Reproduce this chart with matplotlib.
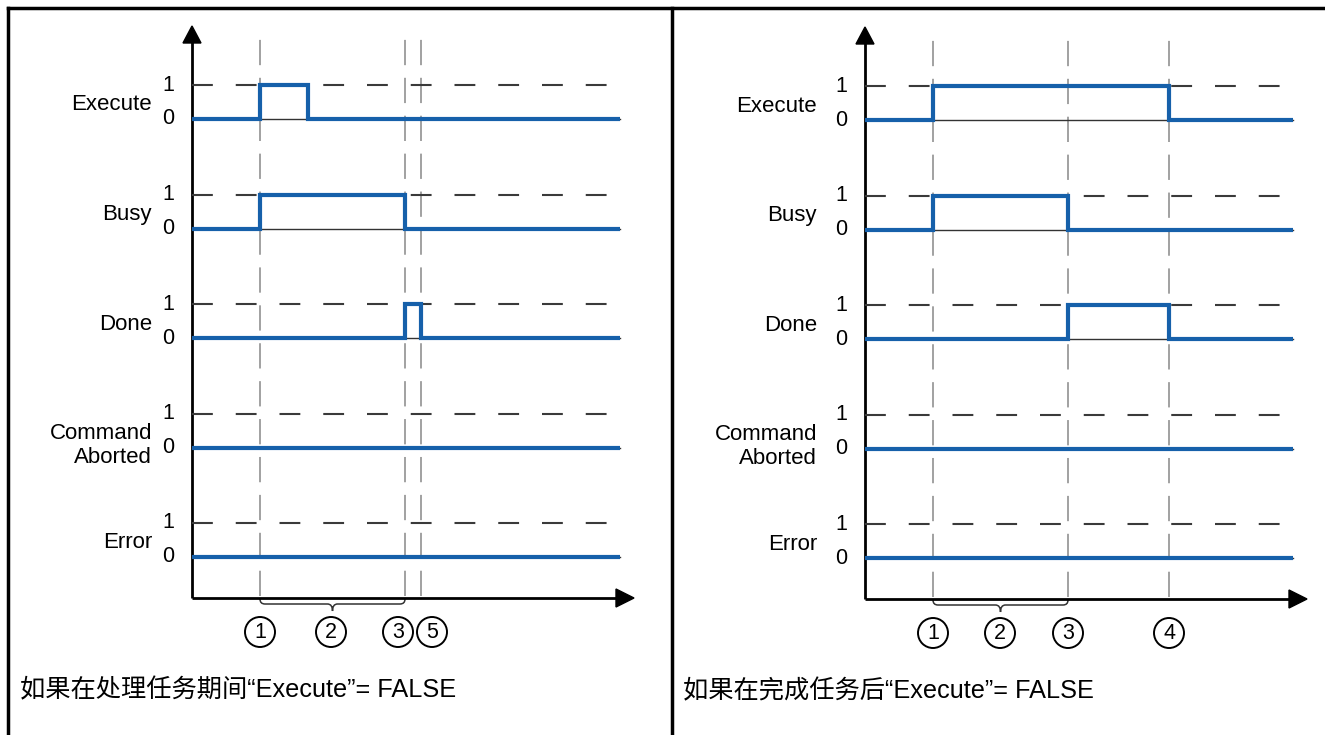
import numpy as np
import matplotlib.pyplot as plt
from matplotlib.patches import Circle, Polygon, PathPatch
from matplotlib.path import Path

plt.rcParams['font.family'] = ['Liberation Sans', 'Noto Sans CJK SC', 'DejaVu Sans']

W, H = 1325, 735

#Signals (top to bottom)
signals = ["Execute", "Busy", "Done", "Command\nAborted", "Error"]

#Left case: Execute goes FALSE while the job is still busy
left_times = [0, 68, 116, 213, 229, 428]
left_execute = [0, 1, 0, 0, 0, 0]
left_busy = [0, 1, 1, 0, 0, 0]
left_done = [0, 0, 0, 1, 0, 0]
left_aborted = [0, 0, 0, 0, 0, 0]
left_error = [0, 0, 0, 0, 0, 0]
left_events = [68, 213, 229]
left_marks = ["1", "2", "3", "5"]
left_mark_t = [68, 139, 206, 240]
left_brace = [68, 213]
left_caption = "如果在处理任务期间“Execute”= FALSE"

#Right case: Execute goes FALSE after the job is done
right_times = [0, 68, 203, 304, 428]
right_execute = [0, 1, 1, 0, 0]
right_busy = [0, 1, 0, 0, 0]
right_done = [0, 0, 1, 0, 0]
right_aborted = [0, 0, 0, 0, 0]
right_error = [0, 0, 0, 0, 0]
right_events = [68, 203, 304]
right_marks = ["1", "2", "3", "4"]
right_mark_t = [68, 135, 203, 304]
right_brace = [68, 203]
right_caption = "如果在完成任务后“Execute”= FALSE"

BLUE = '#1660aa'
ROW0 = 479.      # height of first row's 0 level above the time axis (px)
ROW_STEP = 109.5
AMP = 34.
T_END = 428


def brace(ax, x0, x1):
    xm = (x0 + x1) / 2.
    verts = [(x0, -1), (x0, -6), (x0 + 5, -6), (xm - 5, -6), (xm, -6), (xm, -13),
             (xm, -6), (xm + 5, -6), (x1 - 5, -6), (x1, -6), (x1, -1)]
    codes = [Path.MOVETO, Path.CURVE3, Path.CURVE3, Path.LINETO, Path.CURVE3, Path.CURVE3,
             Path.CURVE3, Path.CURVE3, Path.LINETO, Path.CURVE3, Path.CURVE3]
    ax.add_patch(PathPatch(Path(verts, codes), facecolor='none', edgecolor='#333333', lw=1.1))


def draw_panel(ax, times, rows, events, marks, mark_t, brace_t, caption, label_dx, cap_x):
    # axes with arrows
    ax.plot([0, 0], [0, 556], color='black', lw=2, solid_capstyle='butt')
    ax.plot([0, 425], [0, 0], color='black', lw=2, solid_capstyle='butt')
    ax.add_patch(Polygon([(-9, 555), (9, 555), (0, 572)], closed=True, color='black'))
    ax.add_patch(Polygon([(424, 9), (424, -9), (442, 0)], closed=True, color='black'))

    # vertical guides
    for t in events:
        ax.plot([t, t], [2, 559], color='#9a9a9a', lw=1.3, dashes=(14, 7))

    for k, (name, lv) in enumerate(zip(signals, rows)):
        base = ROW0 - k * ROW_STEP
        ax.plot([0, T_END], [base + AMP, base + AMP], color='#3a3a3a', lw=1.5, dashes=(10, 11))
        ax.plot([0, T_END], [base, base], color='#333333', lw=1.0)
        y = [base + AMP * v for v in lv]
        ax.step(times, y, where='post', color=BLUE, lw=3.0,
                solid_joinstyle='miter', solid_capstyle='butt')
        ax.text(-24, base + AMP, "1", ha='center', va='center', fontsize=15.5)
        ax.text(-24, base, "0", ha='center', va='center', fontsize=15.5)
        dy = 2 if "\n" in name else 14
        ax.text(label_dx, base + dy, name, ha='right', va='center', fontsize=16,
                linespacing=1.2, multialignment='right')

    brace(ax, brace_t[0], brace_t[1])
    for m, t in zip(marks, mark_t):
        ax.add_patch(Circle((t, -34), 15, facecolor='none', edgecolor='black', lw=1.4))
        ax.text(t, -34.5, m, ha='center', va='center', fontsize=15.5)

    ax.text(cap_x, -92, caption, ha='left', va='center', fontsize=18.2)


fig = plt.figure(figsize=(W / 100., H / 100.), dpi=100)

#frame
bg = fig.add_axes([0, 0, 1, 1])
bg.set_xlim(0, W)
bg.set_ylim(H, 0)
bg.axis('off')
bg.plot([8, W], [8, 8], color='black', lw=2.5)
bg.plot([8, 8], [8, H], color='black', lw=2.5)
bg.plot([672, 672], [8, H], color='black', lw=2.5)


def panel_axes(px0, px1, ox, oy):
    # axes with 1 data unit = 1 pixel, origin at the diagram corner
    ax = fig.add_axes([px0 / W, 0, (px1 - px0) / W, 1])
    ax.set_xlim(px0 - ox, px1 - ox)
    ax.set_ylim(oy - H, oy)
    ax.axis('off')
    return ax


ax1 = panel_axes(10, 670, 192, 598)
draw_panel(ax1, left_times,
           [left_execute, left_busy, left_done, left_aborted, left_error],
           left_events, left_marks, left_mark_t, left_brace, left_caption, -40, -172)

ax2 = panel_axes(675, W, 865, 599)
draw_panel(ax2, right_times,
           [right_execute, right_busy, right_done, right_aborted, right_error],
           right_events, right_marks, right_mark_t, right_brace, right_caption, -48, -182)

plt.savefig('out.png', dpi=100)
